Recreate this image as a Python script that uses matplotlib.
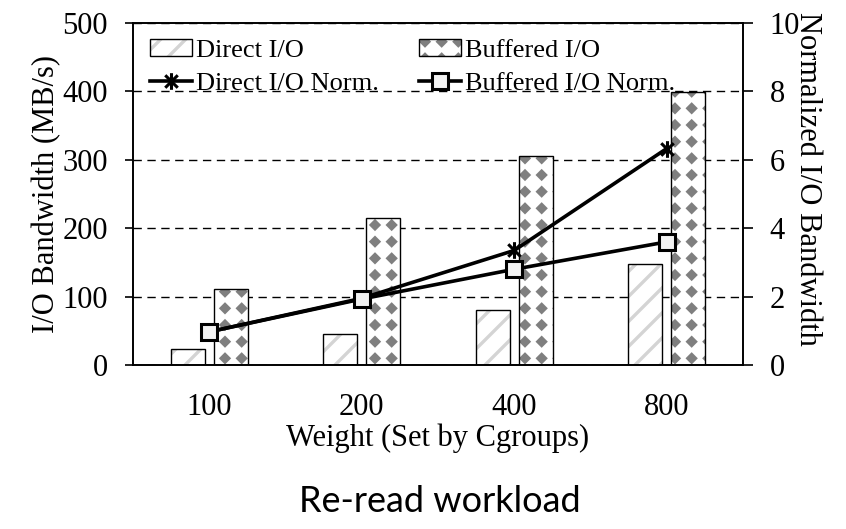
import numpy as np
import matplotlib
matplotlib.use("Agg")
import matplotlib.pyplot as plt
import matplotlib.hatch as mhatch
from matplotlib.path import Path
from matplotlib.colors import to_rgba

# ---------------- data ----------------
categories = ["100", "200", "400", "800"]
direct_io = [23, 45, 80, 148]
buffered_io = [111, 215, 305, 399]
direct_norm = [0.97, 1.95, 3.35, 6.33]
buffered_norm = [0.97, 1.93, 2.80, 3.60]

# ---------------- custom hatches ----------------
class DiamondGrid(mhatch.HatchPatternBase):
    filled = True
    nx, ny, r = 6, 6, 0.038

    def __init__(self, hatch, density):
        self.on = hatch.count('*') > 0
        self.num_vertices = self.nx * self.ny * 5 if self.on else 0

    def set_vertices_and_codes(self, vertices, codes):
        r = self.r
        base = np.array([[0, -r], [r, 0], [0, r], [-r, 0], [0, -r]])
        bcodes = [Path.MOVETO, Path.LINETO, Path.LINETO, Path.LINETO, Path.CLOSEPOLY]
        k = 0
        for j in range(self.ny):
            for i in range(self.nx):
                c = np.array([(i + 0.5) / self.nx, (j + 0.5) / self.ny])
                vertices[k:k + 5] = base + c
                codes[k:k + 5] = bcodes
                k += 5


class DenseStripes(mhatch.HatchPatternBase):
    def __init__(self, hatch, density):
        self.num_lines = 8 if hatch.count('O') > 0 else 0
        self.num_vertices = (self.num_lines + 1) * 2 if self.num_lines else 0

    def set_vertices_and_codes(self, vertices, codes):
        steps = np.linspace(-0.5, 0.5, self.num_lines + 1)
        vertices[0::2, 0] = 0.0 + steps
        vertices[0::2, 1] = 0.0 - steps
        vertices[1::2, 0] = 1.0 + steps
        vertices[1::2, 1] = 1.0 - steps
        codes[0::2] = Path.MOVETO
        codes[1::2] = Path.LINETO


mhatch._hatch_types[:] = [t for t in mhatch._hatch_types
                          if t not in (mhatch.Stars, mhatch.LargeCircles)] + [DiamondGrid, DenseStripes]

plt.rcParams['font.family'] = ['Liberation Serif', 'DejaVu Serif']
plt.rcParams['hatch.linewidth'] = 2.4

W, H = 846, 529
fig = plt.figure(figsize=(W / 100, H / 100), dpi=100)
ax = fig.add_axes([133 / W, 1 - 365 / H, (743 - 133) / W, (365 - 23) / H])
ax2 = ax.twinx()

x = np.arange(len(categories))
bw = 0.22
off = 0.141

ax.set_axisbelow(True)
ax.yaxis.grid(True, color='black', linestyle=(0, (6, 4)), linewidth=1.0)

b1 = ax.bar(x - off, direct_io, bw, facecolor='white', edgecolor='black',
            linewidth=1.0, hatch='O', label='Direct I/O', zorder=2)
for p in b1:
    p._hatch_color = to_rgba('#d4d4d4')
b2 = ax.bar(x + off, buffered_io, bw, facecolor='white', edgecolor='black',
            linewidth=1.0, hatch='*', label='Buffered I/O', zorder=2)
for p in b2:
    p._hatch_color = to_rgba('#7f7f7f')

star = Path([(0, -1), (0, 1), (-0.75, -0.75), (0.75, 0.75), (-0.75, 0.75), (0.75, -0.75)],
            [Path.MOVETO, Path.LINETO, Path.MOVETO, Path.LINETO, Path.MOVETO, Path.LINETO])

l1, = ax2.plot(x, direct_norm, color='black', linewidth=2.6, marker=star,
               markersize=12, markeredgewidth=2.2, label='Direct I/O Norm.', zorder=3)
l2, = ax2.plot(x, buffered_norm, color='black', linewidth=2.6, marker='s',
               markersize=12, markerfacecolor='#f2f2f2', markeredgecolor='black',
               markeredgewidth=2.2, label='Buffered I/O Norm.', zorder=3)

ax.set_xlim(-0.5, 3.5)
ax.set_ylim(0, 500)
ax2.set_ylim(0, 10)
ax.set_yticks([0, 100, 200, 300, 400, 500])
ax2.set_yticks([0, 2, 4, 6, 8, 10])
ax.set_xticks(x)
ax.set_xticklabels(categories)

for a in (ax, ax2):
    for s in a.spines.values():
        s.set_linewidth(1.2)
        s.set_color('black')

ax.tick_params(axis='x', length=0, labelsize=22, pad=20)
ax.tick_params(axis='y', direction='out', length=6, width=1.2, labelsize=22, pad=12)
ax2.tick_params(axis='y', direction='out', length=7, width=1.2, labelsize=22, pad=12)

ax.set_xlabel('Weight (Set by Cgroups)', fontsize=22, labelpad=1)
ax.set_ylabel('I/O Bandwidth (MB/s)', fontsize=22, labelpad=1)
fig.text(807 / W, 1 - 179 / H, 'Normalized I/O Bandwidth', rotation=270,
         fontsize=22, ha='center', va='center')

ax2.set_zorder(ax.get_zorder() + 1)
ax2.patch.set_visible(False)

handles = [b1, l1, b2, l2]
labels = [h.get_label() for h in handles]
leg = ax2.legend(handles, labels, ncol=2, loc='upper left',
                 bbox_to_anchor=(150 / W, 1 - 39 / H), bbox_transform=fig.transFigure,
                 frameon=False, fontsize=19, handlelength=1.6, handleheight=0.6,
                 handletextpad=0.15, columnspacing=1.5, labelspacing=0.4,
                 borderaxespad=0, borderpad=0)

fig.text(440 / W, 1 - 502 / H, 'Re-read workload', fontsize=26,
         family=['Lato', 'DejaVu Sans'], ha='center', va='center')

fig.savefig('out.png', dpi=100)
